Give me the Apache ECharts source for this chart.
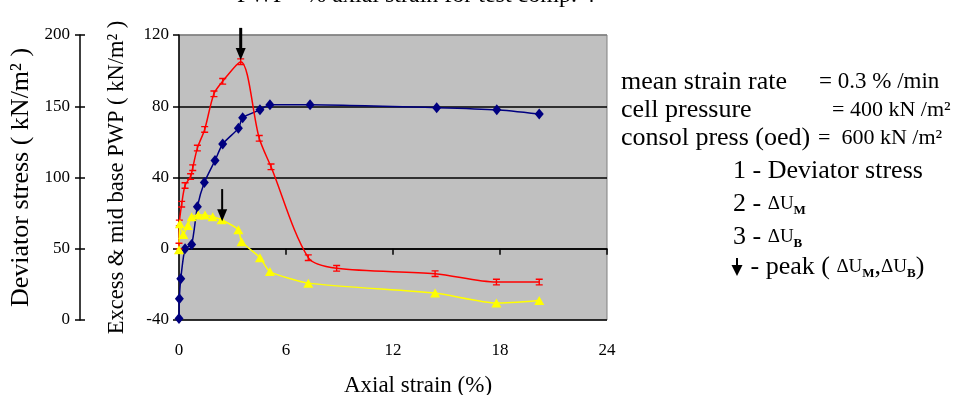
<!DOCTYPE html>
<html><head><meta charset="utf-8">
<script src="https://cdn.jsdelivr.net/npm/echarts@6/dist/echarts.min.js"></script>
<style>html,body{margin:0;padding:0;background:#fff}#c{width:959px;height:395px}</style>
</head><body><div id="c"></div>
<script>
// ---- data ----
const xTicks = [0, 6, 12, 18, 24];
const pwpTicks = [-40, 0, 40, 80, 120];
const devTicks = [0, 50, 100, 150, 200];

// 1 - Deviator stress (kN/m2, left axis 0..200)
const strainDev = [0, 0.02, 0.1, 0.34, 0.71, 1.03, 1.42, 2.02, 2.45, 3.33, 3.57, 4.54, 5.1, 7.35, 14.45, 17.82, 20.2];
const devStress = [1, 15, 29, 50, 53, 79.5, 96.5, 112, 123.5, 134.5, 142, 147.5, 151, 151, 149, 147.5, 144.5];

// 2 - dU_M (excess mid PWP, kN/m2)
const strainM = [0, 0.02, 0.15, 0.34, 0.65, 0.77, 1.03, 1.44, 1.96, 2.45, 3.46, 4.5, 5.16, 7.25, 8.84, 14.36, 17.8, 20.2];
const pwpM = [1.5, 14.5, 25, 35.5, 40.5, 45.5, 56.5, 67, 87, 94, 105, 62, 46, -5, -11, -14, -18.7, -18.7];

// 3 - dU_B (excess base PWP, kN/m2)
const strainB = [0, 0.05, 0.24, 0.5, 0.71, 1.08, 1.46, 1.89, 2.39, 3.33, 3.51, 4.54, 5.1, 7.25, 14.36, 17.8, 20.2];
const pwpB = [-0.5, 14, 8, 13, 18, 19, 19, 18, 16.3, 10.7, 4, -5, -12.8, -19.3, -24.9, -30.5, -29];

// peak arrows: [strain, pwp of arrow tail, pwp of arrow tip]
const peakArrows = [[3.46, 124, 106], [2.42, 33.5, 15.5]];

const zip = (a, b) => a.map((v, i) => [v, b[i]]);
const SERIF = "'Liberation Serif','DejaVu Serif',serif";
const chart = echarts.init(document.getElementById('c'));

const iSym = 'path://M0,0H6V1.2H3.6V4.8H6V6H0V4.8H2.4V1.2H0Z';
const subRich = {
  a: { font: "26px " + SERIF },
  d: { font: "19px " + SERIF },
  s: { font: "bold 13px " + SERIF, verticalAlign: 'bottom', padding: [9, 0, 0, 0] }
};

chart.setOption({
  animation: false,
  backgroundColor: '#fff',
  textStyle: { fontFamily: SERIF },
  grid: { left: 179, right: 352, top: 35, bottom: 75, show: true, backgroundColor: '#c0c0c0',
    borderColor: '#808080', borderWidth: 1, containLabel: false, outerBoundsMode: 'none' },
  xAxis: {
    type: 'value', min: 0, max: 24, interval: 6,
    name: 'Axial strain (%)', nameLocation: 'middle', nameGap: 54,
    nameTextStyle: { fontFamily: SERIF, fontSize: 23, color: '#000', padding: [0, 0, 0, 50] },
    axisLine: { lineStyle: { color: '#000', width: 1.5 } },
    axisTick: { length: 6, lineStyle: { color: '#000', width: 1.5 } },
    axisLabel: { margin: 22, fontSize: 17, color: '#000', fontFamily: SERIF,
      formatter: v => xTicks.includes(v) ? String(v) : '' },
    splitLine: { show: false }
  },
  yAxis: [
    { type: 'value', min: -40, max: 120, interval: 40, position: 'left', offset: 0,
      name: 'Excess & mid base PWP ( kN/m² )', nameLocation: 'middle', nameGap: 50, nameRotate: 90,
      nameTextStyle: { fontFamily: SERIF, fontSize: 22.5, color: '#000' },
      axisLine: { show: true, lineStyle: { color: '#000', width: 1.5 } },
      axisTick: { show: true, length: 6, lineStyle: { color: '#000', width: 1.5 } },
      axisLabel: { margin: 10, fontSize: 17, color: '#000', fontFamily: SERIF,
        formatter: v => pwpTicks.includes(v) ? String(v) : '' },
      splitLine: { show: true, lineStyle: { color: ['#000', '#000', '#000', '#000', '#808080'], width: 1.5 } }
    },
    { type: 'value', min: 0, max: 200, interval: 50, position: 'left', offset: 99,
      name: 'Deviator stress ( kN/m² )', nameLocation: 'middle', nameGap: 46, nameRotate: 90,
      nameTextStyle: { fontFamily: SERIF, fontSize: 26, color: '#000' },
      axisLine: { show: true, lineStyle: { color: '#000', width: 1.5 } },
      axisTick: { show: true, length: 5, lineStyle: { color: '#000', width: 1.5 } },
      axisLabel: { margin: 10, fontSize: 17, color: '#000', fontFamily: SERIF,
        formatter: v => devTicks.includes(v) ? String(v) : '' },
      splitLine: { show: false }
    },
    { type: 'value', min: 0, max: 200, interval: 50, position: 'left', offset: 99,
      axisLine: { show: false }, axisLabel: { show: false }, splitLine: { show: false },
      axisTick: { show: true, inside: true, length: 5, lineStyle: { color: '#000', width: 1.5 } }
    }
  ],
  series: [
    { name: 'Deviator stress', type: 'line', yAxisIndex: 1, data: zip(strainDev, devStress),
      symbol: 'diamond', symbolSize: [9, 11], smooth: 0.2,
      lineStyle: { color: '#000080', width: 1.5 }, itemStyle: { color: '#000080' } },
    { name: 'dUM', type: 'line', yAxisIndex: 0, data: zip(strainM, pwpM),
      symbol: iSym, symbolSize: [7, 7], smooth: 0.3,
      lineStyle: { color: '#ff0000', width: 1.5 }, itemStyle: { color: '#ff0000' } },
    { name: 'dUB', type: 'line', yAxisIndex: 0, data: zip(strainB, pwpB),
      symbol: 'triangle', symbolSize: [10, 9], smooth: 0.2,
      lineStyle: { color: '#ffff00', width: 1.5 }, itemStyle: { color: '#ffff00' } },
    { name: 'peak', type: 'custom', yAxisIndex: 0, clip: false, z: 10,
      data: peakArrows,
      renderItem: (params, api) => {
        const tail = api.coord([api.value(0), api.value(1)]);
        const tip = api.coord([api.value(0), api.value(2)]);
        const w = params.dataIndex === 0 ? 3 : 2;
        return { type: 'group', children: [
          { type: 'line', shape: { x1: tail[0], y1: tail[1], x2: tip[0], y2: tip[1] - 8 }, style: { stroke: '#000', lineWidth: w } },
          { type: 'polygon', shape: { points: [[tip[0] - 5, tip[1] - 12], [tip[0] + 5, tip[1] - 12], [tip[0], tip[1]]] }, style: { fill: '#000' } }
        ] };
      }
    }
  ],
  graphic: [
    { type: 'text', left: 237, top: -16, style: { text: 'PWP - % axial strain for test comp. 4', font: "24px " + SERIF, fill: '#000' } },
    { type: 'text', x: 621, y: 82, style: { text: 'mean strain rate', font: "26px " + SERIF, fill: '#000', verticalAlign: 'middle' } },
    { type: 'text', x: 819, y: 82, style: { text: '= 0.3 % /min', font: "23px " + SERIF, fill: '#000', verticalAlign: 'middle' } },
    { type: 'text', x: 621, y: 110, style: { text: 'cell pressure', font: "26px " + SERIF, fill: '#000', verticalAlign: 'middle' } },
    { type: 'text', x: 832, y: 110, style: { text: '= 400 kN /m²', font: "22px " + SERIF, fill: '#000', verticalAlign: 'middle' } },
    { type: 'text', x: 621, y: 138, style: { text: 'consol press (oed)', font: "26px " + SERIF, fill: '#000', verticalAlign: 'middle' } },
    { type: 'text', x: 818, y: 138, style: { text: '=  600 kN /m²', font: "22px " + SERIF, fill: '#000', verticalAlign: 'middle' } },
    { type: 'text', x: 733, y: 171, style: { text: '1 - Deviator stress', font: "26px " + SERIF, fill: '#000', verticalAlign: 'middle' } },
    { type: 'text', x: 733, y: 204, style: { text: '{a|2 - }{d|ΔU}{s|M}', fill: '#000', verticalAlign: 'middle', rich: subRich } },
    { type: 'text', x: 733, y: 237, style: { text: '{a|3 - }{d|ΔU}{s|B}', fill: '#000', verticalAlign: 'middle', rich: subRich } },
    { type: 'line', shape: { x1: 737, y1: 258, x2: 737, y2: 270 }, style: { stroke: '#000', lineWidth: 2 } },
    { type: 'polygon', shape: { points: [[731.5, 265], [742.5, 265], [737, 276]] }, style: { fill: '#000' } },
    { type: 'text', x: 744, y: 267, style: { text: '{a| - peak ( }{d|ΔU}{s|M}{a|,}{d|ΔU}{s|B}{a|)}', fill: '#000', verticalAlign: 'middle', rich: subRich } }
  ]
});
</script></body></html>
